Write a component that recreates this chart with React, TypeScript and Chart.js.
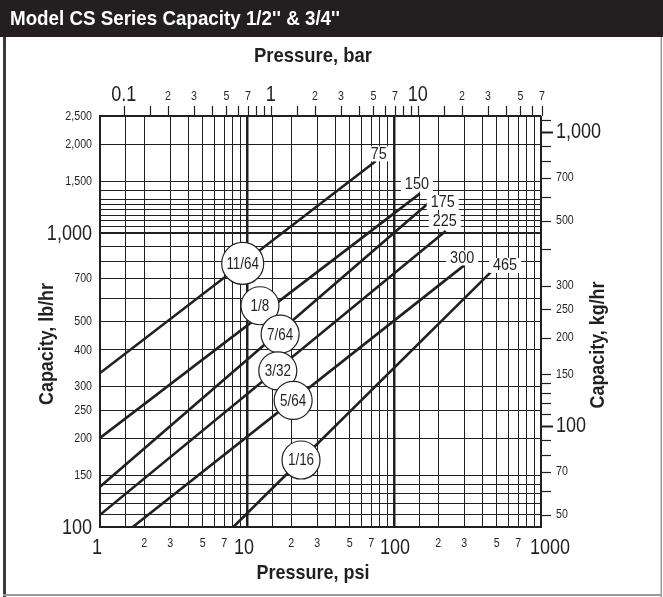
import React, { useEffect, useRef } from 'react';
import { Chart, registerables } from 'chart.js';
Chart.register(...registerables);

// ---------- data ----------
const orificeLabels = ['11/64', '1/8', '7/64', '3/32', '5/64', '1/16'];
const maxPressureLabels = ['75', '150', '175', '225', '300', '465'];
const startPressure = [1, 1, 1, 1, 1.67, 8.07];
const startCapacity = [334, 201, 137, 110, 100, 100];
const endPressure = [75, 150, 175, 225, 300, 465];
const endCapacity = [1753, 1361, 1275, 1016, 776, 743];
const circlePressure = [9.35, 12.25, 16.8, 16.2, 20.6, 23.3];

// grid / tick values
const psiGrid = [1, 1.5, 2, 3, 4, 5, 6, 7, 8, 9, 10, 15, 20, 30, 40, 50, 60, 70, 80, 90, 100, 150, 200, 300, 400, 500, 600, 700, 800, 900, 1000];
const lbGrid = [100, 110, 120, 130, 140, 150, 200, 250, 300, 400, 500, 600, 700, 800, 900, 1000, 1050, 1100, 1150, 1200, 1250, 1300, 1400, 1500, 2000, 2500];
const psiBigLabels = [1, 10, 100, 1000];
const psiSmallLabels = [2, 3, 5, 7, 20, 30, 50, 70, 200, 300, 500, 700];
const lbBigLabels = [100, 1000];
const lbSmallLabels = [150, 200, 250, 300, 400, 500, 700, 1500, 2000, 2500];
const barTicks = [0.1, 0.15, 0.2, 0.3, 0.4, 0.5, 0.6, 0.7, 0.8, 0.9, 1, 1.5, 2, 3, 4, 5, 6, 7, 8, 9, 10, 15, 20, 30, 40, 50, 60, 70];
const barBigLabels = [0.1, 1, 10];
const barSmallLabels = [0.2, 0.3, 0.5, 0.7, 2, 3, 5, 7, 20, 30, 50, 70];
const barSmallText = ['2', '3', '5', '7', '2', '3', '5', '7', '2', '3', '5', '7'];
const kgTicks = [50, 60, 70, 80, 90, 100, 110, 120, 130, 140, 150, 200, 250, 300, 400, 500, 600, 700, 800, 900, 1000, 1100];
const kgBigLabels = [100, 1000];
const kgSmallLabels = [50, 70, 150, 200, 250, 300, 500, 700];

const PSI_PER_BAR = 14.5038;
const KG_PER_LB = 0.453592;

// ---------- style ----------
const FONT = '"Liberation Sans", Arial, Helvetica, sans-serif';
const INK = '#231f20';
const endLabelOffsets = [[3, -7], [-3, -9], [13, 1], [-1, -9], [-2, -7], [13, -5]];
const circleRadius = [21, 19, 19, 19, 19, 19];
const circleNudgeY = [0, -10, 3, 2, 0, 0];
const psiBigNudge = [-3, -3, 1, 9];

type TextOpts = { size: number; bold?: boolean; align?: CanvasTextAlign; baseline?: CanvasTextBaseline; sx?: number; width?: number; rotate?: number; color?: string };

function drawText(ctx: CanvasRenderingContext2D, s: string, x: number, y: number, o: TextOpts) {
  ctx.save();
  ctx.font = `${o.bold ? 'bold ' : ''}${o.size}px ${FONT}`;
  const w = ctx.measureText(s).width;
  const sx = o.width ? o.width / w : (o.sx ?? 0.82);
  ctx.translate(x, y);
  if (o.rotate) ctx.rotate(o.rotate);
  ctx.scale(sx, 1);
  ctx.textAlign = o.align ?? 'center';
  ctx.textBaseline = o.baseline ?? 'middle';
  ctx.fillStyle = o.color ?? INK;
  ctx.fillText(s, 0, 0);
  ctx.restore();
  return w * sx;
}

function fmt(v: number) {
  return v.toLocaleString('en-US');
}

function capAt(i: number, p: number) {
  const l0 = Math.log10(startPressure[i]);
  const l1 = Math.log10(endPressure[i]);
  const c0 = Math.log10(startCapacity[i]);
  const c1 = Math.log10(endCapacity[i]);
  const t = (Math.log10(p) - l0) / (l1 - l0);
  return Math.pow(10, c0 + t * (c1 - c0));
}

const decorPlugin = {
  id: 'decor',
  beforeDraw(chart: any) {
    const ctx: CanvasRenderingContext2D = chart.ctx;
    ctx.save();
    ctx.fillStyle = '#ffffff';
    ctx.fillRect(0, 0, chart.width, chart.height);
    // title bar
    ctx.fillStyle = INK;
    ctx.fillRect(0, 0, chart.width, 37);
    // panel border
    ctx.fillStyle = '#3a3a3a';
    ctx.fillRect(3, 37, 3, chart.height - 37);
    ctx.fillStyle = '#9a9a9a';
    ctx.fillRect(chart.width - 2.5, 37, 1.5, chart.height - 37);
    ctx.fillRect(3, chart.height - 3, chart.width - 4, 2);
    ctx.restore();
    drawText(ctx, "Model CS Series Capacity 1/2'' & 3/4''", 10, 19, { size: 21, bold: true, align: 'left', width: 330, color: '#ffffff' });
  },
  afterDatasetsDraw(chart: any) {
    const ctx: CanvasRenderingContext2D = chart.ctx;
    const xs = chart.scales.x;
    const ys = chart.scales.y;
    const a = chart.chartArea;

    // end labels (max pressure)
    maxPressureLabels.forEach((lab, i) => {
      const px = xs.getPixelForValue(endPressure[i]) + endLabelOffsets[i][0];
      const py = ys.getPixelForValue(endCapacity[i]) + endLabelOffsets[i][1];
      ctx.save();
      ctx.font = `16px ${FONT}`;
      const w = ctx.measureText(lab).width * 0.9;
      ctx.fillStyle = '#ffffff';
      ctx.fillRect(px - w / 2 - 4, py - 8, w + 8, 15);
      ctx.restore();
      drawText(ctx, lab, px, py, { size: 16, sx: 0.9 });
    });

    // orifice circles
    orificeLabels.forEach((lab, i) => {
      const p = circlePressure[i];
      const cx = xs.getPixelForValue(p);
      const cy = ys.getPixelForValue(capAt(i, p)) + circleNudgeY[i];
      ctx.save();
      ctx.beginPath();
      ctx.arc(cx, cy, circleRadius[i], 0, Math.PI * 2);
      ctx.fillStyle = '#ffffff';
      ctx.fill();
      ctx.lineWidth = 1.2;
      ctx.strokeStyle = INK;
      ctx.stroke();
      ctx.restore();
      drawText(ctx, lab, cx, cy + 1, { size: 16, sx: 0.84 });
    });

    // top axis (bar)
    ctx.save();
    ctx.strokeStyle = INK;
    ctx.lineWidth = 1.2;
    barTicks.forEach((b) => {
      const x = Math.round(xs.getPixelForValue(b * PSI_PER_BAR)) + 0.5;
      ctx.beginPath();
      ctx.moveTo(x, a.top - 10);
      ctx.lineTo(x, a.top);
      ctx.stroke();
    });
    // right axis (kg/hr)
    kgTicks.forEach((k) => {
      const y = Math.round(ys.getPixelForValue(k / KG_PER_LB)) + 0.5;
      const big = kgBigLabels.includes(k);
      ctx.lineWidth = big ? 2 : 1.2;
      ctx.beginPath();
      ctx.moveTo(a.right, y);
      ctx.lineTo(a.right + (big ? 12 : 10), y);
      ctx.stroke();
    });
    ctx.restore();

    barBigLabels.forEach((b) => {
      drawText(ctx, b === 0.1 ? '0.1' : String(b), xs.getPixelForValue(b * PSI_PER_BAR), 101, { size: 22, baseline: 'alphabetic' });
    });
    barSmallLabels.forEach((b, i) => {
      drawText(ctx, barSmallText[i], xs.getPixelForValue(b * PSI_PER_BAR), 100, { size: 13, baseline: 'alphabetic' });
    });

    kgBigLabels.forEach((k) => {
      drawText(ctx, fmt(k), a.right + 15, ys.getPixelForValue(k / KG_PER_LB), { size: 22, align: 'left' });
    });
    kgSmallLabels.forEach((k) => {
      drawText(ctx, fmt(k), a.right + 15, ys.getPixelForValue(k / KG_PER_LB), { size: 13, align: 'left' });
    });

    // left axis labels
    lbBigLabels.forEach((v) => {
      drawText(ctx, fmt(v), 92, ys.getPixelForValue(v) + 1, { size: 22, align: 'right' });
    });
    lbSmallLabels.forEach((v) => {
      drawText(ctx, fmt(v), 92, ys.getPixelForValue(v), { size: 13, align: 'right' });
    });

    // bottom axis labels
    psiBigLabels.forEach((v, i) => {
      drawText(ctx, String(v), xs.getPixelForValue(v) + psiBigNudge[i], 537, { size: 22, baseline: 'top' });
    });
    psiSmallLabels.forEach((v) => {
      const s = String(v).charAt(0);
      drawText(ctx, s, xs.getPixelForValue(v), 537, { size: 13, baseline: 'top' });
    });

    // axis titles
    drawText(ctx, 'Pressure, bar', 313, 56, { size: 21, bold: true, width: 118 });
    drawText(ctx, 'Pressure, psi', 313, 573, { size: 21, bold: true, width: 113 });
    drawText(ctx, 'Capacity, lb/hr', 47.5, 344, { size: 21, bold: true, width: 122, rotate: -Math.PI / 2 });
    drawText(ctx, 'Capacity, kg/hr', 598, 345, { size: 21, bold: true, width: 127, rotate: -Math.PI / 2 });
  },
};

export default function App() {
  const ref = useRef<HTMLCanvasElement>(null);
  useEffect(() => {
    const canvas = ref.current;
    if (!canvas) return;
    const datasets = orificeLabels.map((lab, i) => ({
      label: lab,
      data: [
        { x: startPressure[i], y: startCapacity[i] },
        { x: endPressure[i], y: endCapacity[i] },
      ],
      showLine: true,
      borderColor: INK,
      borderWidth: 2.6,
      pointRadius: 0,
      fill: false,
    }));
    const chart = new Chart(canvas, {
      type: 'scatter',
      data: { datasets },
      plugins: [decorPlugin],
      options: {
        responsive: false,
        animation: false,
        devicePixelRatio: 1,
        layout: { padding: { left: 100, right: 122, top: 116, bottom: 70 } },
        plugins: { legend: { display: false }, tooltip: { enabled: false }, title: { display: false } },
        scales: {
          x: {
            type: 'logarithmic',
            min: 1,
            max: 1000,
            afterBuildTicks: (axis: any) => {
              axis.ticks = psiGrid.map((v) => ({ value: v }));
            },
            ticks: { display: false },
            grid: {
              drawTicks: false,
              color: INK,
              lineWidth: (c: any) => {
                const v = c.tick && c.tick.value;
                return v === 10 || v === 100 ? 2.5 : v === 1 || v === 1000 ? 2 : 1;
              },
            },
            border: { display: true, color: INK, width: 2 },
          },
          y: {
            type: 'logarithmic',
            min: 100,
            max: 2500,
            afterBuildTicks: (axis: any) => {
              axis.ticks = lbGrid.map((v) => ({ value: v }));
            },
            ticks: { display: false },
            grid: {
              drawTicks: false,
              color: INK,
              lineWidth: (c: any) => {
                const v = c.tick && c.tick.value;
                return v === 1000 || v === 100 || v === 2500 ? 2 : 1;
              },
            },
            border: { display: true, color: INK, width: 2 },
          },
        },
      } as any,
    });
    return () => chart.destroy();
  }, []);
  return (
    <div style={{ position: 'absolute', left: 0, top: 0, width: 663, height: 597, background: '#fff' }}>
      <canvas ref={ref} width={663} height={597} style={{ display: 'block', width: 663, height: 597 }} />
    </div>
  );
}
